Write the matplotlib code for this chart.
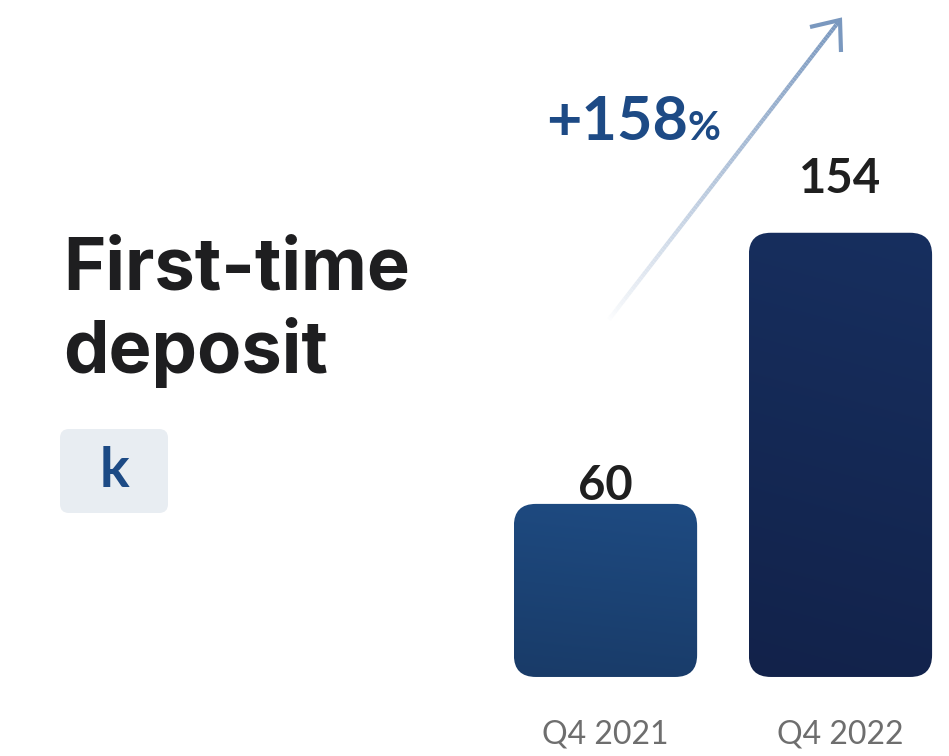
import numpy as np
import matplotlib.pyplot as plt
from matplotlib.patches import FancyBboxPatch
from matplotlib.collections import LineCollection
from matplotlib.colors import to_rgb

plt.rcParams['font.family'] = ['Lato', 'DejaVu Sans']

quarters = ["Q4 2021", "Q4 2022"]
deposits = [60, 154]
growth = "+158"
bar_top_colors = ["#1e4b82", "#172f5f"]
bar_bottom_colors = ["#193b68", "#12224a"]
value_gap = [1.4, 13.8]  # distance of the number above its bar, in value units

W, H = 949, 756
fig = plt.figure(figsize=(W / 100, H / 100), dpi=100)
ax = fig.add_axes([0, 0, 1, 1])
xlim = (-2.577, 1.462)
ylim = (-27.4, 234.7)
ax.set_xlim(*xlim)
ax.set_ylim(*ylim)
ax.axis("off")

# pixels per data unit along each axis, used to keep the corners round
px_x = W / (xlim[1] - xlim[0])
px_y = H / (ylim[1] - ylim[0])
radius = 22 / px_x

x = np.arange(len(quarters))
bars = ax.bar(x, deposits, width=0.78, color="none", edgecolor="none")

for i, b in enumerate(bars):
    x0, w = b.get_x(), b.get_width()
    h = b.get_height()
    shape = FancyBboxPatch((x0, 0), w, h,
                           boxstyle=f"round,pad=0,rounding_size={radius}",
                           mutation_aspect=px_x / px_y,
                           facecolor="none", edgecolor="none")
    ax.add_patch(shape)
    # gradient: darker toward the bottom, a touch lighter on the right
    top = np.array(to_rgb(bar_top_colors[i]))
    bot = np.array(to_rgb(bar_bottom_colors[i]))
    ty = np.linspace(0, 1, 200)[:, None, None]
    tx = np.linspace(0, 1, 50)[None, :, None]
    t = np.clip(ty * 0.9 + (1 - tx) * 0.1, 0, 1)
    img = top + (bot - top) * t
    im = ax.imshow(img, extent=(x0, x0 + w, 0, h), aspect="auto",
                   interpolation="bilinear", zorder=2)
    im.set_clip_path(shape)

    ax.text(b.get_x() + w / 2, h + value_gap[i], str(deposits[i]),
            ha="center", va="baseline", fontsize=34, fontweight="bold",
            color="#1f1f1f")
    ax.text(b.get_x() + w / 2, -22.9, quarters[i], ha="center",
            va="baseline", fontsize=23, color="#6e6e6e")

ax.set_xlim(*xlim)
ax.set_ylim(*ylim)

# title block on the left
title_font = ['Inter', 'Lato', 'DejaVu Sans']
fig.text(63 / W, 1 - 290 / H, "First-time", fontsize=52, fontweight="bold",
         color="#1e1e20", va="baseline", family=title_font)
fig.text(63 / W, 1 - 373 / H, "deposit", fontsize=52, fontweight="bold",
         color="#1e1e20", va="baseline", family=title_font)

inch = fig.dpi_scale_trans
badge = FancyBboxPatch((0.60, 2.43), 1.08, 0.84,
                       boxstyle="round,pad=0,rounding_size=0.09",
                       transform=inch, facecolor="#e8edf2",
                       edgecolor="none")
fig.patches.append(badge)
fig.text(1.14 / (W / 100), 2.85 / (H / 100), "k", ha="center", va="center",
         fontsize=40, fontweight="bold", color="#1c4a85")

# growth arrow fading in from the lower left
tail = np.array([6.07, 4.34])
tip = np.array([8.40, 7.36])
n = 120
pts = tail + (tip - tail) * np.linspace(0, 1, n + 1)[:, None]
segs = np.stack([pts[:-1], pts[1:]], axis=1)
arrow_col = np.array(to_rgb("#7a98bf"))
fade = np.linspace(0, 1, n)[:, None]
cols = np.hstack([1 - (1 - arrow_col) * fade ** 0.8, np.ones((n, 1))])
lc = LineCollection(segs, colors=cols, linewidths=3.0, transform=inch,
                    capstyle="butt")
fig.add_artist(lc)
head = np.array([[8.10, 7.29], [8.40, 7.36], [8.41, 7.04]])
fig.add_artist(plt.Line2D(head[:, 0], head[:, 1], transform=inch,
                          color=arrow_col, lw=3.0, solid_joinstyle="miter",
                          solid_capstyle="butt"))

# "+158" with a smaller percent sign right after it
g = fig.text(546 / W, 1 - 140 / H, growth, fontsize=44, fontweight="bold",
             color="#1d4a85", va="baseline")
fig.canvas.draw()
gx1 = g.get_window_extent().x1
fig.text(gx1 / W, 1 - 140 / H, "%", fontsize=29, fontweight="bold",
         color="#1d4a85", va="baseline")

fig.savefig("out.png", dpi=100, facecolor="white")
